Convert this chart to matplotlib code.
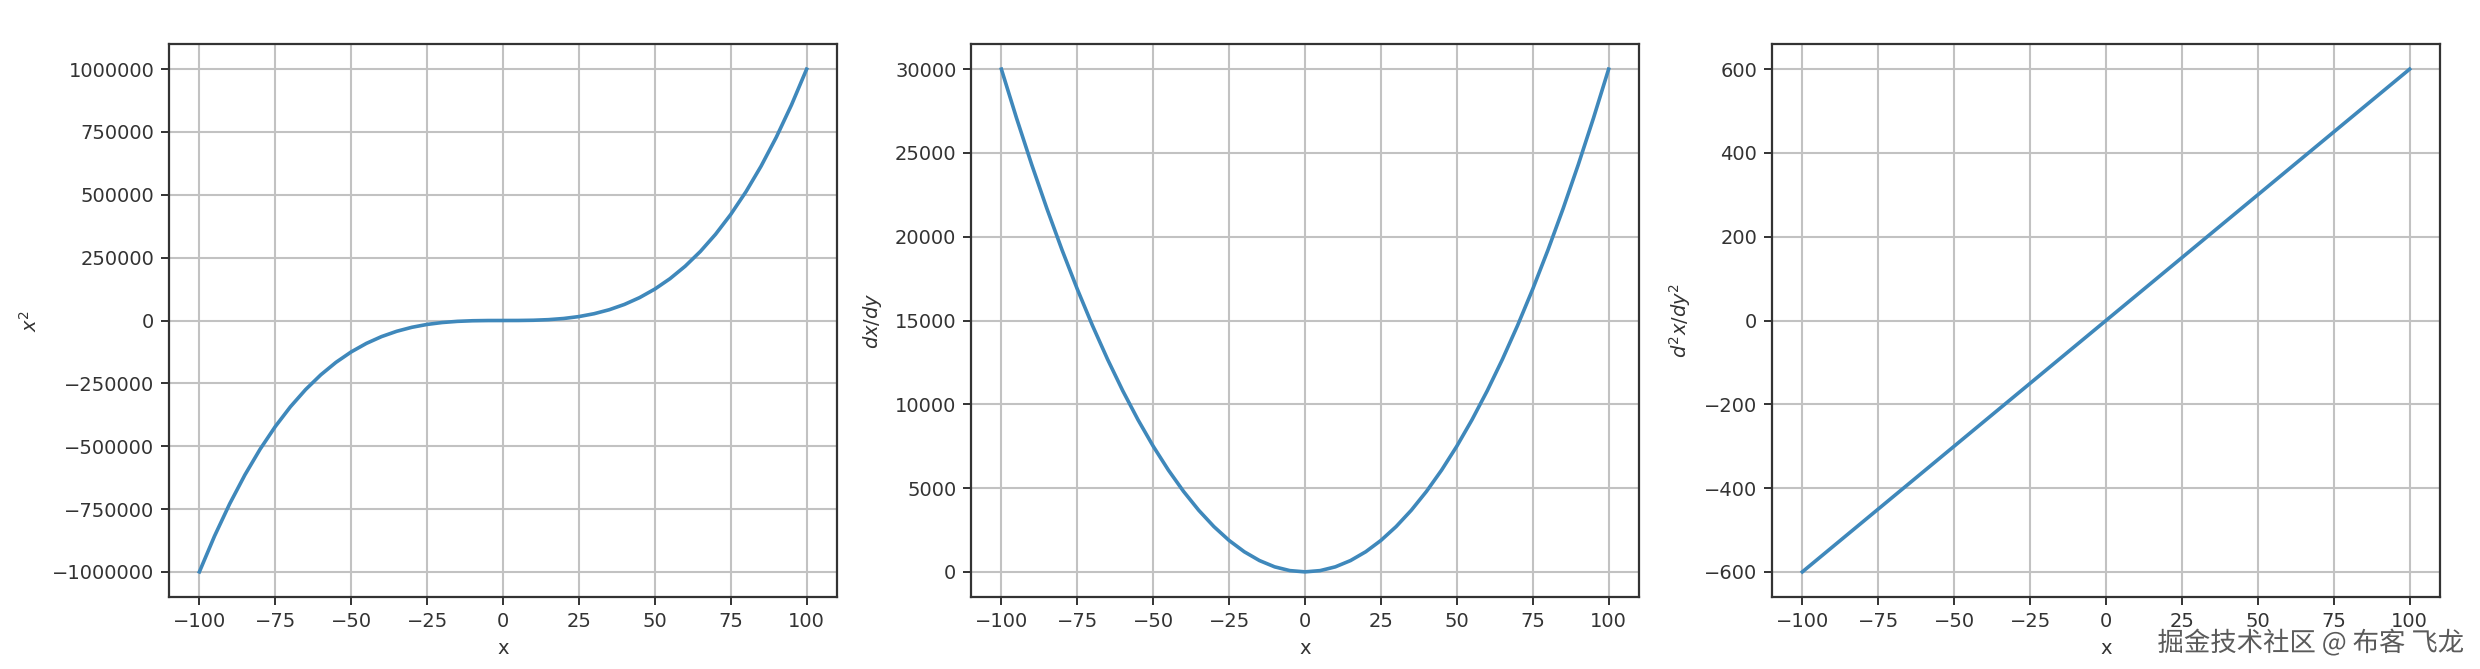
import matplotlib
matplotlib.use("Agg")
import matplotlib.pyplot as plt
import matplotlib.patheffects as pe

# data
x = [-100, -95, -90, -85, -80, -75, -70, -65, -60, -55, -50, -45, -40, -35, -30, -25, -20, -15, -10, -5,
     0, 5, 10, 15, 20, 25, 30, 35, 40, 45, 50, 55, 60, 65, 70, 75, 80, 85, 90, 95, 100]
y_func = [-1000000, -857375, -729000, -614125, -512000, -421875, -343000, -274625, -216000, -166375,
          -125000, -91125, -64000, -42875, -27000, -15625, -8000, -3375, -1000, -125,
          0, 125, 1000, 3375, 8000, 15625, 27000, 42875, 64000, 91125,
          125000, 166375, 216000, 274625, 343000, 421875, 512000, 614125, 729000, 857375, 1000000]
y_d1 = [30000, 27075, 24300, 21675, 19200, 16875, 14700, 12675, 10800, 9075,
        7500, 6075, 4800, 3675, 2700, 1875, 1200, 675, 300, 75,
        0, 75, 300, 675, 1200, 1875, 2700, 3675, 4800, 6075,
        7500, 9075, 10800, 12675, 14700, 16875, 19200, 21675, 24300, 27075, 30000]
y_d2 = [-600, -570, -540, -510, -480, -450, -420, -390, -360, -330,
        -300, -270, -240, -210, -180, -150, -120, -90, -60, -30,
        0, 30, 60, 90, 120, 150, 180, 210, 240, 270,
        300, 330, 360, 390, 420, 450, 480, 510, 540, 570, 600]
ylabels = ["$x^2$", "$dx/dy$", "$d^2x/dy^2$"]
xticks = [-100, -75, -50, -25, 0, 25, 50, 75, 100]
xlabel = "x"
watermark = "掘金技术社区 @ 布客 飞龙"

fs = 14
fig = plt.figure(figsize=(24.8, 6.69), dpi=100)
W = 668 / 2480
B = 1 - 597 / 669
H = (597 - 44) / 669
positions = [
    [169 / 2480, B, W, H],
    [971 / 2480, B, W, H],
    [1772 / 2480, B, W, H],
]
series = [y_func, y_d1, y_d2]
color = "#3f88bb"
for pos, ys, yl in zip(positions, series, ylabels):
    ax = fig.add_axes(pos)
    ax.plot(x, ys, color=color, lw=2.6)
    ax.grid(True, color="#c2c2c2", lw=1.5)
    ax.set_axisbelow(True)
    ax.set_xticks(xticks)
    ax.ticklabel_format(axis="y", style="plain", useOffset=False)
    ax.tick_params(labelsize=fs, colors="#333333", length=5.5, width=1.4, pad=5)
    ax.set_xlabel(xlabel, fontsize=fs, color="#333333", labelpad=6)
    ax.set_ylabel(yl, fontsize=fs, color="#333333", labelpad=8)
    for s in ax.spines.values():
        s.set_color("#333333")
        s.set_linewidth(1.6)

fig.text(0.9935, 0.018, watermark, ha="right", va="bottom", fontsize=19,
         color="#5a5a5a", family=["Noto Sans CJK SC", "DejaVu Sans"],
         path_effects=[pe.withStroke(linewidth=3, foreground="white")])

fig.savefig("out.png", dpi=100, facecolor="white")
